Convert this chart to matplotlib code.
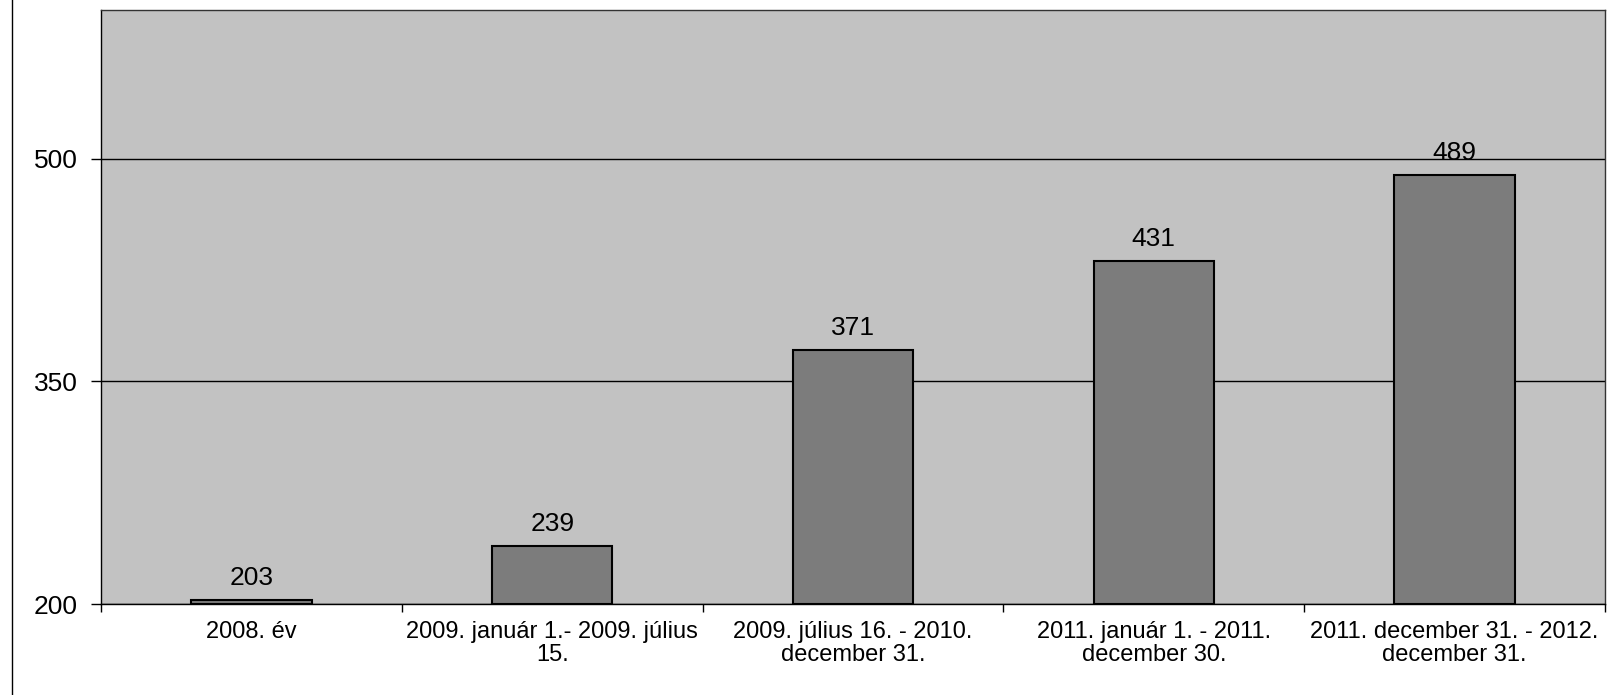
import matplotlib.pyplot as plt
from matplotlib.lines import Line2D

plt.rcParams['font.family'] = ['Liberation Sans', 'DejaVu Sans']

periods = [
    "2008. év",
    "2009. január 1.- 2009. július\n15.",
    "2009. július 16. - 2010.\ndecember 31.",
    "2011. január 1. - 2011.\ndecember 30.",
    "2011. december 31. - 2012.\ndecember 31.",
]
counts = [203, 239, 371, 431, 489]
y_ticks = [200, 350, 500]

fig = plt.figure(figsize=(16.15, 6.95), dpi=100, facecolor='white')
ax = fig.add_axes([101 / 1615, 1 - 604 / 695, 1504 / 1615, 594 / 695])
ax.set_facecolor('#c2c2c2')

x = list(range(len(counts)))
ax.bar(x, [c - 200 for c in counts], bottom=200, width=0.4,
       color='#7c7c7c', edgecolor='black', linewidth=1.5, zorder=3)

for xi, c in zip(x, counts):
    ax.annotate(str(c), (xi, c), xytext=(0, 7), textcoords='offset points',
                ha='center', va='bottom', fontsize=19, zorder=4)

ax.set_xlim(-0.5, len(counts) - 0.5)
ax.set_ylim(200, 600)
ax.set_yticks(y_ticks)
ax.set_yticklabels([str(t) for t in y_ticks], fontsize=19)
ax.tick_params(axis='y', length=7, width=1, pad=10)

ax.set_xticks([i + 0.5 for i in range(-1, len(counts))], minor=False)
ax.set_xticklabels([''] * (len(counts) + 1))
ax.tick_params(axis='x', length=6, width=1)
ax.set_xticks(x, minor=True)
ax.set_xticklabels(periods, minor=True, fontsize=17, linespacing=1.05)
ax.tick_params(axis='x', which='minor', length=0, pad=12)

ax.yaxis.grid(True, color='black', linewidth=1, zorder=1)
ax.set_axisbelow(True)
for s in ax.spines.values():
    s.set_linewidth(1)
    s.set_color('#333333')
ax.spines['bottom'].set_color('black')
ax.spines['left'].set_color('black')

fig.add_artist(Line2D([12 / 1615, 12 / 1615], [0, 1], color='black', linewidth=1))

plt.savefig("out.png", dpi=100)
plt.close(fig)
